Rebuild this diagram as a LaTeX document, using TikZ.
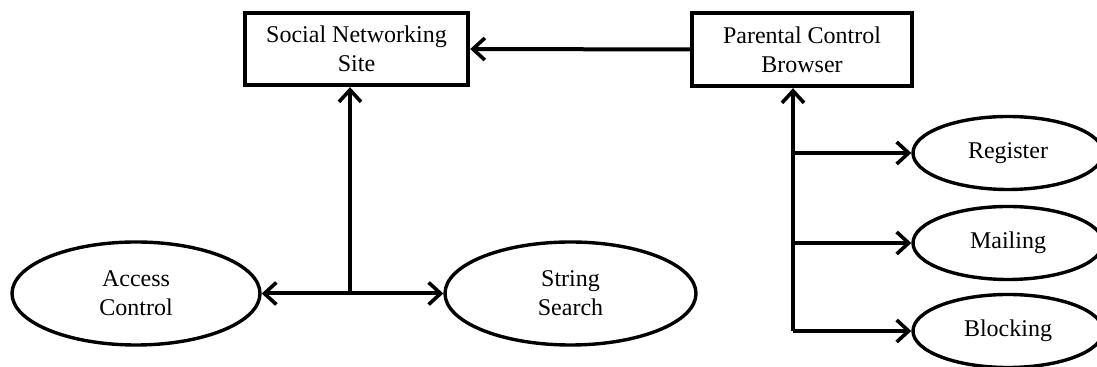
\documentclass[tikz,border=0pt]{standalone}
\usepackage{fontspec}
\setmainfont{Liberation Serif}
\usetikzlibrary{shapes.geometric,arrows.meta}

\tikzset{
  box/.style={draw, line width=2.2pt, inner sep=0pt, align=center},
  oval/.style={draw, ellipse, line width=1.7pt, inner sep=0pt, align=center},
  tip/.tip={Straight Barb[length=6pt,width=11pt,line width=1.8pt]},
  link/.style={line width=2pt, -tip},
  twolink/.style={line width=2pt, tip-tip},
  every node/.style={font=\fontsize{12}{14.5}\selectfont}
}

\begin{document}
\begin{tikzpicture}[x=0.5pt,y=-0.5pt]
                \useasboundingbox (0,0) rectangle (1097,367);

                % boxes
                \node[box, minimum width=111.5pt, minimum height=36pt] (sns) at (356.5,49) {Social Networking\\Site};
                \node[box, minimum width=110pt, minimum height=36.5pt] (pcb) at (802,49.5) {Parental Control\\Browser};

                % left side
                \node[oval, minimum width=124pt, minimum height=51.5pt] (acc) at (136,293.5) {Access\\Control};
                \node[oval, minimum width=125.5pt, minimum height=51.5pt] (str) at (570.5,293.5) {String\\Search};

                % right side
                \node[oval, minimum width=95pt, minimum height=36.5pt] (reg) at (1008,153) {Register};
                \node[oval, minimum width=95pt, minimum height=36.5pt] (mail) at (1008,243) {Mailing};
                \node[oval, minimum width=95pt, minimum height=36.5pt] (blk) at (1008,331) {Blocking};

                \coordinate (jn) at (350,293.5);
                \coordinate (pb) at (793,331);

                \draw[link] (pcb.west) -- (sns.east);
                \draw[twolink] (acc.east) -- (str.west);
                \draw[link] (jn) -- (jn |- sns.south);

                \draw[link] (pb) -- (pb |- pcb.south);
                \draw[link] (pb |- reg) -- (reg.west);
                \draw[link] (pb |- mail) -- (mail.west);
                \draw[link] (pb) -- (blk.west);
            \end{tikzpicture}
\end{document}
